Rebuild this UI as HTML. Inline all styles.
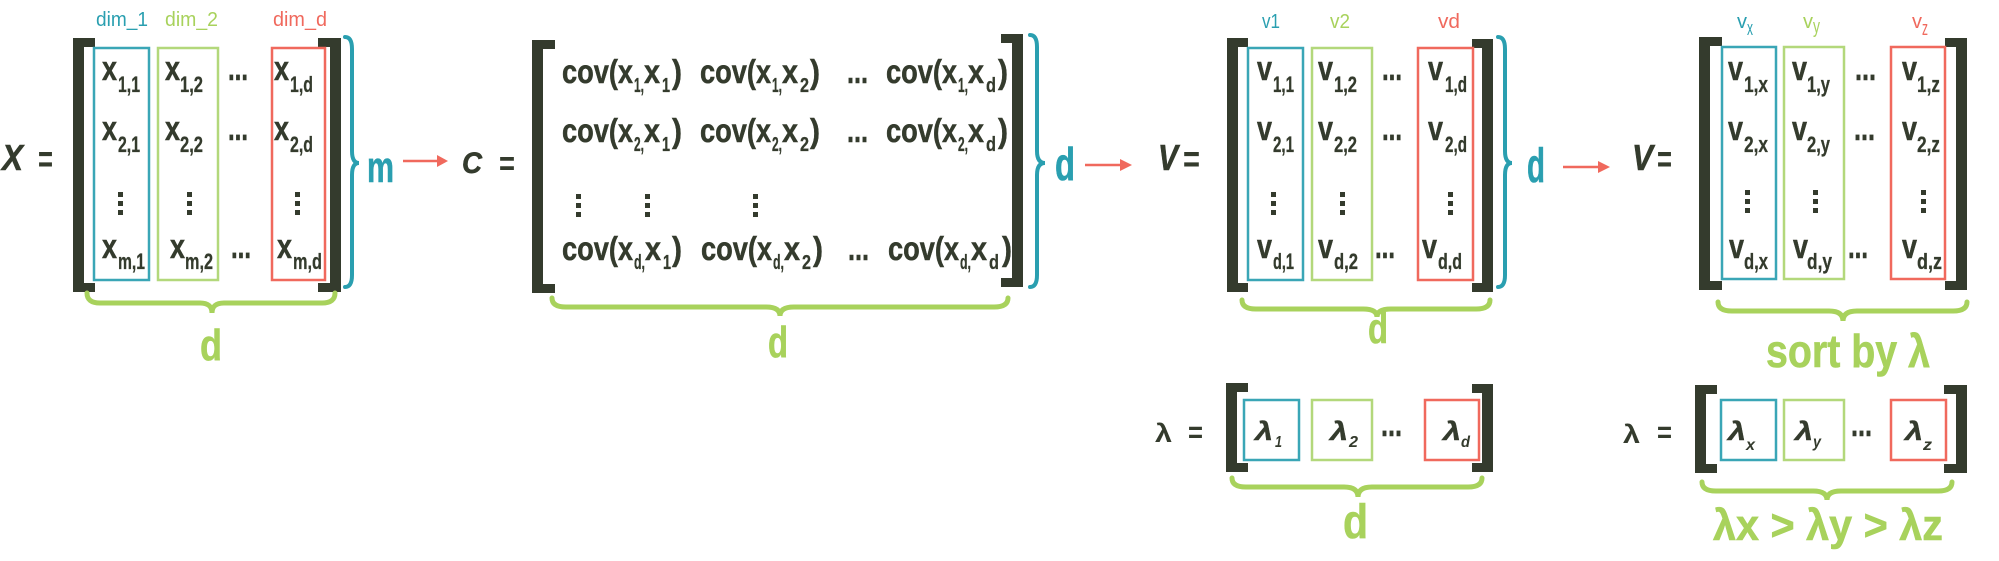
<!DOCTYPE html>
<html>
<head>
<meta charset="utf-8">
<style>
html,body{margin:0;padding:0;background:#fff;}
svg{display:block;}
text{font-family:"Liberation Sans",sans-serif;}
.m{font-size:34px;font-weight:bold;fill:#343b2d;stroke:#343b2d;stroke-width:0.5;}
.s{font-size:22px;font-weight:bold;fill:#343b2d;stroke:#343b2d;stroke-width:0.3;}
.cm{font-size:33px;font-weight:bold;fill:#343b2d;stroke:#343b2d;stroke-width:0.5;}
.cs{font-size:20px;font-weight:bold;fill:#343b2d;stroke:#343b2d;stroke-width:0.3;}
.big{font-weight:bold;font-style:italic;fill:#343b2d;stroke:#343b2d;stroke-width:0.6;}
.eq{font-weight:bold;fill:#343b2d;}
.lt{font-size:20px;fill:#2a9fb0;}
.lg{font-size:20px;fill:#a8d25c;}
.lr{font-size:20px;fill:#f0695d;}
.gd{font-weight:bold;fill:#a8d25c;stroke:#a8d25c;stroke-width:0.6;}
.td{font-weight:bold;fill:#2a9fb0;stroke:#2a9fb0;stroke-width:0.6;}
.li{font-size:26px;font-weight:bold;font-style:italic;fill:#343b2d;stroke:#343b2d;stroke-width:0.4;}
.lis{font-size:16px;font-weight:bold;font-style:italic;fill:#343b2d;}
</style>
</head>
<body>
<svg width="1999" height="561" viewBox="0 0 1999 561" xmlns="http://www.w3.org/2000/svg">
<rect width="1999" height="561" fill="#fff"/>

<!-- ============ MATRIX X ============ -->
<text class="big" x="2" y="170" font-size="36" textLength="21" lengthAdjust="spacingAndGlyphs">X</text>
<text class="eq" x="38" y="172" font-size="38" textLength="15" lengthAdjust="spacingAndGlyphs">=</text>
<path d="M73,38 H95 V47 H84 V283 H95 V292 H73 Z" fill="#343b2d"/>
<path d="M341,38 H318 V47 H330 V283 H318 V292 H341 Z" fill="#343b2d"/>
<rect x="94" y="48" width="55" height="232" fill="none" stroke="#3aa6b6" stroke-width="2.5"/>
<rect x="158" y="48" width="60" height="232" fill="none" stroke="#b3d87b" stroke-width="2.5"/>
<rect x="272" y="48" width="53" height="232" fill="none" stroke="#f0695d" stroke-width="2.5"/>
<text class="lt" x="96" y="26" textLength="52" lengthAdjust="spacingAndGlyphs">dim_1</text>
<text class="lg" x="165" y="26" textLength="53" lengthAdjust="spacingAndGlyphs">dim_2</text>
<text class="lr" x="273" y="26" textLength="54" lengthAdjust="spacingAndGlyphs">dim_d</text>
<!-- row 1 -->
<text class="m" x="102" y="80" textLength="15" lengthAdjust="spacingAndGlyphs">x</text>
<text class="s" x="118" y="92" textLength="22" lengthAdjust="spacingAndGlyphs">1,1</text>
<text class="m" x="165" y="80" textLength="15" lengthAdjust="spacingAndGlyphs">x</text>
<text class="s" x="180" y="92" textLength="23" lengthAdjust="spacingAndGlyphs">1,2</text>
<text class="m" x="228" y="80" textLength="20" lengthAdjust="spacingAndGlyphs">...</text>
<text class="m" x="274" y="80" textLength="15" lengthAdjust="spacingAndGlyphs">x</text>
<text class="s" x="290" y="92" textLength="23" lengthAdjust="spacingAndGlyphs">1,d</text>
<!-- row 2 -->
<text class="m" x="102" y="140" textLength="15" lengthAdjust="spacingAndGlyphs">x</text>
<text class="s" x="118" y="152" textLength="22" lengthAdjust="spacingAndGlyphs">2,1</text>
<text class="m" x="165" y="140" textLength="15" lengthAdjust="spacingAndGlyphs">x</text>
<text class="s" x="180" y="152" textLength="23" lengthAdjust="spacingAndGlyphs">2,2</text>
<text class="m" x="228" y="140" textLength="20" lengthAdjust="spacingAndGlyphs">...</text>
<text class="m" x="274" y="140" textLength="15" lengthAdjust="spacingAndGlyphs">x</text>
<text class="s" x="290" y="152" textLength="23" lengthAdjust="spacingAndGlyphs">2,d</text>
<!-- vdots -->
<g fill="#343b2d">
<rect x="118" y="192" width="5" height="5"/><rect x="118" y="201" width="5" height="5"/><rect x="118" y="210" width="5" height="5"/>
<rect x="187" y="192" width="5" height="5"/><rect x="187" y="201" width="5" height="5"/><rect x="187" y="210" width="5" height="5"/>
<rect x="295" y="192" width="5" height="5"/><rect x="295" y="201" width="5" height="5"/><rect x="295" y="210" width="5" height="5"/>
</g>
<!-- row m -->
<text class="m" x="102" y="258" textLength="15" lengthAdjust="spacingAndGlyphs">x</text>
<text class="s" x="118" y="269" textLength="27" lengthAdjust="spacingAndGlyphs">m,1</text>
<text class="m" x="170" y="258" textLength="15" lengthAdjust="spacingAndGlyphs">x</text>
<text class="s" x="185" y="269" textLength="28" lengthAdjust="spacingAndGlyphs">m,2</text>
<text class="m" x="231" y="258" textLength="20" lengthAdjust="spacingAndGlyphs">...</text>
<text class="m" x="277" y="258" textLength="15" lengthAdjust="spacingAndGlyphs">x</text>
<text class="s" x="293" y="269" textLength="29" lengthAdjust="spacingAndGlyphs">m,d</text>
<!-- braces -->
<path d="M345,37 Q352,37 352,49 L352,151 Q352,163 359,163 Q352,163 352,175 L352,275 Q352,287 345,287" fill="none" stroke="#2a9fb0" stroke-width="4" stroke-linecap="round"/>
<text class="td" x="367" y="182" font-size="44" textLength="27" lengthAdjust="spacingAndGlyphs">m</text>
<path d="M87,293 Q87,303 100,303 L200,303 Q212,303 212,313 Q212,303 224,303 L322,303 Q335,303 335,293" fill="none" stroke="#a8d25c" stroke-width="5" stroke-linecap="round"/>
<text class="gd" x="200" y="360" font-size="44" textLength="22" lengthAdjust="spacingAndGlyphs">d</text>
<!-- arrow 1 -->
<line x1="403" y1="161" x2="438" y2="161" stroke="#f0695d" stroke-width="2.5"/>
<polygon points="437,155 448,161 437,167" fill="#f0695d"/>

<!-- ============ MATRIX C ============ -->
<text class="big" x="462" y="173" font-size="30" textLength="20" lengthAdjust="spacingAndGlyphs">C</text>
<text class="eq" x="499" y="175" font-size="34" textLength="16" lengthAdjust="spacingAndGlyphs">=</text>
<path d="M532,40 H555 V49 H543 V284 H555 V293 H532 Z" fill="#343b2d"/>
<path d="M1023,34 H1001 V43 H1012 V278 H1001 V287 H1023 Z" fill="#343b2d"/>

<!-- row 1 -->
<g>
<text class="cm" x="562" y="83" textLength="56" lengthAdjust="spacingAndGlyphs">cov(</text>
<text class="cm" x="618" y="83" textLength="15" lengthAdjust="spacingAndGlyphs">x</text>
<text class="cs" x="634" y="92" textLength="10" lengthAdjust="spacingAndGlyphs">1,</text>
<text class="cm" x="644" y="83" textLength="16" lengthAdjust="spacingAndGlyphs">x</text>
<text class="cs" x="662" y="92" textLength="8" lengthAdjust="spacingAndGlyphs">1</text>
<text class="cm" x="672" y="83" textLength="10" lengthAdjust="spacingAndGlyphs">)</text>

<text class="cm" x="700" y="83" textLength="56" lengthAdjust="spacingAndGlyphs">cov(</text>
<text class="cm" x="756" y="83" textLength="15" lengthAdjust="spacingAndGlyphs">x</text>
<text class="cs" x="772" y="92" textLength="10" lengthAdjust="spacingAndGlyphs">1,</text>
<text class="cm" x="782" y="83" textLength="16" lengthAdjust="spacingAndGlyphs">x</text>
<text class="cs" x="800" y="92" textLength="9" lengthAdjust="spacingAndGlyphs">2</text>
<text class="cm" x="810" y="83" textLength="10" lengthAdjust="spacingAndGlyphs">)</text>

<text class="cm" x="847" y="83" textLength="21" lengthAdjust="spacingAndGlyphs">...</text>

<text class="cm" x="886" y="83" textLength="56" lengthAdjust="spacingAndGlyphs">cov(</text>
<text class="cm" x="942" y="83" textLength="15" lengthAdjust="spacingAndGlyphs">x</text>
<text class="cs" x="958" y="92" textLength="10" lengthAdjust="spacingAndGlyphs">1,</text>
<text class="cm" x="968" y="83" textLength="16" lengthAdjust="spacingAndGlyphs">x</text>
<text class="cs" x="986" y="92" textLength="10" lengthAdjust="spacingAndGlyphs">d</text>
<text class="cm" x="998" y="83" textLength="10" lengthAdjust="spacingAndGlyphs">)</text>
</g>
<!-- row 2 -->
<g>
<text class="cm" x="562" y="142" textLength="56" lengthAdjust="spacingAndGlyphs">cov(</text>
<text class="cm" x="618" y="142" textLength="15" lengthAdjust="spacingAndGlyphs">x</text>
<text class="cs" x="634" y="151" textLength="10" lengthAdjust="spacingAndGlyphs">2,</text>
<text class="cm" x="644" y="142" textLength="16" lengthAdjust="spacingAndGlyphs">x</text>
<text class="cs" x="662" y="151" textLength="8" lengthAdjust="spacingAndGlyphs">1</text>
<text class="cm" x="672" y="142" textLength="10" lengthAdjust="spacingAndGlyphs">)</text>

<text class="cm" x="700" y="142" textLength="56" lengthAdjust="spacingAndGlyphs">cov(</text>
<text class="cm" x="756" y="142" textLength="15" lengthAdjust="spacingAndGlyphs">x</text>
<text class="cs" x="772" y="151" textLength="10" lengthAdjust="spacingAndGlyphs">2,</text>
<text class="cm" x="782" y="142" textLength="16" lengthAdjust="spacingAndGlyphs">x</text>
<text class="cs" x="800" y="151" textLength="9" lengthAdjust="spacingAndGlyphs">2</text>
<text class="cm" x="810" y="142" textLength="10" lengthAdjust="spacingAndGlyphs">)</text>

<text class="cm" x="847" y="142" textLength="21" lengthAdjust="spacingAndGlyphs">...</text>

<text class="cm" x="886" y="142" textLength="56" lengthAdjust="spacingAndGlyphs">cov(</text>
<text class="cm" x="942" y="142" textLength="15" lengthAdjust="spacingAndGlyphs">x</text>
<text class="cs" x="958" y="151" textLength="10" lengthAdjust="spacingAndGlyphs">2,</text>
<text class="cm" x="968" y="142" textLength="16" lengthAdjust="spacingAndGlyphs">x</text>
<text class="cs" x="986" y="151" textLength="10" lengthAdjust="spacingAndGlyphs">d</text>
<text class="cm" x="998" y="142" textLength="10" lengthAdjust="spacingAndGlyphs">)</text>
</g>
<!-- vdots C -->
<g fill="#343b2d">
<rect x="576" y="194" width="5" height="5"/><rect x="576" y="203" width="5" height="5"/><rect x="576" y="212" width="5" height="5"/>
<rect x="645" y="194" width="5" height="5"/><rect x="645" y="203" width="5" height="5"/><rect x="645" y="212" width="5" height="5"/>
<rect x="753" y="194" width="5" height="5"/><rect x="753" y="203" width="5" height="5"/><rect x="753" y="212" width="5" height="5"/>
</g>
<!-- row d -->
<g>
<text class="cm" x="562" y="260" textLength="56" lengthAdjust="spacingAndGlyphs">cov(</text>
<text class="cm" x="618" y="260" textLength="15" lengthAdjust="spacingAndGlyphs">x</text>
<text class="cs" x="634" y="269" textLength="11" lengthAdjust="spacingAndGlyphs">d,</text>
<text class="cm" x="645" y="260" textLength="16" lengthAdjust="spacingAndGlyphs">x</text>
<text class="cs" x="663" y="269" textLength="8" lengthAdjust="spacingAndGlyphs">1</text>
<text class="cm" x="672" y="260" textLength="10" lengthAdjust="spacingAndGlyphs">)</text>

<text class="cm" x="701" y="260" textLength="56" lengthAdjust="spacingAndGlyphs">cov(</text>
<text class="cm" x="757" y="260" textLength="15" lengthAdjust="spacingAndGlyphs">x</text>
<text class="cs" x="773" y="269" textLength="11" lengthAdjust="spacingAndGlyphs">d,</text>
<text class="cm" x="784" y="260" textLength="16" lengthAdjust="spacingAndGlyphs">x</text>
<text class="cs" x="802" y="269" textLength="9" lengthAdjust="spacingAndGlyphs">2</text>
<text class="cm" x="813" y="260" textLength="10" lengthAdjust="spacingAndGlyphs">)</text>

<text class="cm" x="848" y="260" textLength="21" lengthAdjust="spacingAndGlyphs">...</text>

<text class="cm" x="888" y="260" textLength="56" lengthAdjust="spacingAndGlyphs">cov(</text>
<text class="cm" x="944" y="260" textLength="15" lengthAdjust="spacingAndGlyphs">x</text>
<text class="cs" x="960" y="269" textLength="11" lengthAdjust="spacingAndGlyphs">d,</text>
<text class="cm" x="971" y="260" textLength="16" lengthAdjust="spacingAndGlyphs">x</text>
<text class="cs" x="989" y="269" textLength="10" lengthAdjust="spacingAndGlyphs">d</text>
<text class="cm" x="1002" y="260" textLength="10" lengthAdjust="spacingAndGlyphs">)</text>
</g>
<!-- braces C -->
<path d="M1030,35 Q1037,35 1037,47 L1037,151 Q1037,163 1045,163 Q1037,163 1037,175 L1037,275 Q1037,287 1030,287" fill="none" stroke="#2a9fb0" stroke-width="4" stroke-linecap="round"/>
<text class="td" x="1055" y="180" font-size="46" textLength="20" lengthAdjust="spacingAndGlyphs">d</text>
<path d="M552,298 Q552,307 566,307 L766,307 Q780,307 780,316 Q780,307 794,307 L994,307 Q1008,307 1008,298" fill="none" stroke="#a8d25c" stroke-width="5" stroke-linecap="round"/>
<text class="gd" x="768" y="357" font-size="44" textLength="20" lengthAdjust="spacingAndGlyphs">d</text>
<!-- arrow 2 -->
<line x1="1085" y1="165" x2="1121" y2="165" stroke="#f0695d" stroke-width="2.5"/>
<polygon points="1120,159 1132,165 1120,171" fill="#f0695d"/>

<!-- ============ MATRIX V ============ -->
<text class="big" x="1158" y="170" font-size="36" textLength="20" lengthAdjust="spacingAndGlyphs">V</text>
<text class="eq" x="1183" y="172" font-size="38" textLength="17" lengthAdjust="spacingAndGlyphs">=</text>
<path d="M1227,38 H1248 V47 H1238 V283 H1248 V292 H1227 Z" fill="#343b2d"/>
<path d="M1493,39 H1472 V48 H1482 V283 H1472 V292 H1493 Z" fill="#343b2d"/>
<rect x="1248" y="48" width="55" height="232" fill="none" stroke="#3aa6b6" stroke-width="2.5"/>
<rect x="1312" y="48" width="60" height="232" fill="none" stroke="#b3d87b" stroke-width="2.5"/>
<rect x="1418" y="48" width="55" height="232" fill="none" stroke="#f0695d" stroke-width="2.5"/>
<text class="lt" x="1262" y="28" textLength="18" lengthAdjust="spacingAndGlyphs">v1</text>
<text class="lg" x="1330" y="28" textLength="20" lengthAdjust="spacingAndGlyphs">v2</text>
<text class="lr" x="1438" y="28" textLength="22" lengthAdjust="spacingAndGlyphs">vd</text>
<!-- row 1 -->
<text class="m" x="1257" y="80" textLength="15" lengthAdjust="spacingAndGlyphs">v</text>
<text class="s" x="1273" y="92" textLength="21" lengthAdjust="spacingAndGlyphs">1,1</text>
<text class="m" x="1318" y="80" textLength="15" lengthAdjust="spacingAndGlyphs">v</text>
<text class="s" x="1334" y="92" textLength="23" lengthAdjust="spacingAndGlyphs">1,2</text>
<text class="m" x="1382" y="80" textLength="20" lengthAdjust="spacingAndGlyphs">...</text>
<text class="m" x="1428" y="80" textLength="15" lengthAdjust="spacingAndGlyphs">v</text>
<text class="s" x="1445" y="92" textLength="22" lengthAdjust="spacingAndGlyphs">1,d</text>
<!-- row 2 -->
<text class="m" x="1257" y="140" textLength="15" lengthAdjust="spacingAndGlyphs">v</text>
<text class="s" x="1273" y="152" textLength="21" lengthAdjust="spacingAndGlyphs">2,1</text>
<text class="m" x="1318" y="140" textLength="15" lengthAdjust="spacingAndGlyphs">v</text>
<text class="s" x="1334" y="152" textLength="23" lengthAdjust="spacingAndGlyphs">2,2</text>
<text class="m" x="1382" y="140" textLength="20" lengthAdjust="spacingAndGlyphs">...</text>
<text class="m" x="1428" y="140" textLength="15" lengthAdjust="spacingAndGlyphs">v</text>
<text class="s" x="1445" y="152" textLength="22" lengthAdjust="spacingAndGlyphs">2,d</text>
<g fill="#343b2d">
<rect x="1271" y="192" width="5" height="5"/><rect x="1271" y="201" width="5" height="5"/><rect x="1271" y="210" width="5" height="5"/>
<rect x="1340" y="192" width="5" height="5"/><rect x="1340" y="201" width="5" height="5"/><rect x="1340" y="210" width="5" height="5"/>
<rect x="1448" y="192" width="5" height="5"/><rect x="1448" y="201" width="5" height="5"/><rect x="1448" y="210" width="5" height="5"/>
</g>
<!-- row d -->
<text class="m" x="1257" y="258" textLength="15" lengthAdjust="spacingAndGlyphs">v</text>
<text class="s" x="1273" y="269" textLength="21" lengthAdjust="spacingAndGlyphs">d,1</text>
<text class="m" x="1318" y="258" textLength="15" lengthAdjust="spacingAndGlyphs">v</text>
<text class="s" x="1334" y="269" textLength="24" lengthAdjust="spacingAndGlyphs">d,2</text>
<text class="m" x="1375" y="258" textLength="20" lengthAdjust="spacingAndGlyphs">...</text>
<text class="m" x="1422" y="258" textLength="15" lengthAdjust="spacingAndGlyphs">v</text>
<text class="s" x="1438" y="269" textLength="24" lengthAdjust="spacingAndGlyphs">d,d</text>
<!-- braces V -->
<path d="M1498,37 Q1505,37 1505,49 L1505,151 Q1505,163 1512,163 Q1505,163 1505,175 L1505,275 Q1505,287 1498,287" fill="none" stroke="#2a9fb0" stroke-width="4" stroke-linecap="round"/>
<text class="td" x="1527" y="182" font-size="48" textLength="18" lengthAdjust="spacingAndGlyphs">d</text>
<path d="M1242,300 Q1242,309 1256,309 L1363,309 Q1377,309 1377,317 Q1377,309 1391,309 L1476,309 Q1490,309 1490,300" fill="none" stroke="#a8d25c" stroke-width="5" stroke-linecap="round"/>
<text class="gd" x="1368" y="343" font-size="43" textLength="20" lengthAdjust="spacingAndGlyphs">d</text>
<!-- arrow 3 -->
<line x1="1563" y1="167" x2="1599" y2="167" stroke="#f0695d" stroke-width="2.5"/>
<polygon points="1598,161 1610,167 1598,173" fill="#f0695d"/>

<!-- ============ SORTED V ============ -->
<text class="big" x="1632" y="170" font-size="36" textLength="21" lengthAdjust="spacingAndGlyphs">V</text>
<text class="eq" x="1657" y="172" font-size="38" textLength="15" lengthAdjust="spacingAndGlyphs">=</text>
<path d="M1699,37 H1722 V46 H1710 V281 H1722 V290 H1699 Z" fill="#343b2d"/>
<path d="M1967,38 H1945 V47 H1956 V281 H1945 V290 H1967 Z" fill="#343b2d"/>
<rect x="1722" y="47" width="54" height="232" fill="none" stroke="#3aa6b6" stroke-width="2.5"/>
<rect x="1784" y="47" width="60" height="232" fill="none" stroke="#b3d87b" stroke-width="2.5"/>
<rect x="1891" y="47" width="54" height="232" fill="none" stroke="#f0695d" stroke-width="2.5"/>
<text class="lt" x="1737" y="28" textLength="10" lengthAdjust="spacingAndGlyphs">v</text>
<text class="lt" x="1747" y="35" font-size="13" textLength="6" lengthAdjust="spacingAndGlyphs">x</text>
<text class="lg" x="1803" y="28" textLength="10" lengthAdjust="spacingAndGlyphs">v</text>
<text class="lg" x="1813" y="33" font-size="13" textLength="7" lengthAdjust="spacingAndGlyphs">y</text>
<text class="lr" x="1912" y="28" textLength="10" lengthAdjust="spacingAndGlyphs">v</text>
<text class="lr" x="1922" y="35" font-size="13" textLength="6" lengthAdjust="spacingAndGlyphs">z</text>
<!-- row 1 -->
<text class="m" x="1728" y="80" textLength="15" lengthAdjust="spacingAndGlyphs">v</text>
<text class="s" x="1744" y="92" textLength="24" lengthAdjust="spacingAndGlyphs">1,x</text>
<text class="m" x="1792" y="80" textLength="15" lengthAdjust="spacingAndGlyphs">v</text>
<text class="s" x="1807" y="92" textLength="23" lengthAdjust="spacingAndGlyphs">1,y</text>
<text class="m" x="1855" y="80" textLength="21" lengthAdjust="spacingAndGlyphs">...</text>
<text class="m" x="1902" y="80" textLength="15" lengthAdjust="spacingAndGlyphs">v</text>
<text class="s" x="1917" y="92" textLength="23" lengthAdjust="spacingAndGlyphs">1,z</text>
<!-- row 2 -->
<text class="m" x="1728" y="140" textLength="15" lengthAdjust="spacingAndGlyphs">v</text>
<text class="s" x="1744" y="152" textLength="24" lengthAdjust="spacingAndGlyphs">2,x</text>
<text class="m" x="1792" y="140" textLength="15" lengthAdjust="spacingAndGlyphs">v</text>
<text class="s" x="1807" y="152" textLength="23" lengthAdjust="spacingAndGlyphs">2,y</text>
<text class="m" x="1854" y="140" textLength="21" lengthAdjust="spacingAndGlyphs">...</text>
<text class="m" x="1902" y="140" textLength="15" lengthAdjust="spacingAndGlyphs">v</text>
<text class="s" x="1917" y="152" textLength="23" lengthAdjust="spacingAndGlyphs">2,z</text>
<g fill="#343b2d">
<rect x="1745" y="190" width="5" height="5"/><rect x="1745" y="199" width="5" height="5"/><rect x="1745" y="208" width="5" height="5"/>
<rect x="1813" y="190" width="5" height="5"/><rect x="1813" y="199" width="5" height="5"/><rect x="1813" y="208" width="5" height="5"/>
<rect x="1921" y="190" width="5" height="5"/><rect x="1921" y="199" width="5" height="5"/><rect x="1921" y="208" width="5" height="5"/>
</g>
<!-- row d -->
<text class="m" x="1729" y="258" textLength="15" lengthAdjust="spacingAndGlyphs">v</text>
<text class="s" x="1744" y="269" textLength="24" lengthAdjust="spacingAndGlyphs">d,x</text>
<text class="m" x="1793" y="258" textLength="15" lengthAdjust="spacingAndGlyphs">v</text>
<text class="s" x="1807" y="269" textLength="25" lengthAdjust="spacingAndGlyphs">d,y</text>
<text class="m" x="1848" y="258" textLength="20" lengthAdjust="spacingAndGlyphs">...</text>
<text class="m" x="1902" y="258" textLength="15" lengthAdjust="spacingAndGlyphs">v</text>
<text class="s" x="1917" y="269" textLength="25" lengthAdjust="spacingAndGlyphs">d,z</text>
<path d="M1718,302 Q1718,311 1732,311 L1829,311 Q1843,311 1843,321 Q1843,311 1857,311 L1953,311 Q1967,311 1967,302" fill="none" stroke="#a8d25c" stroke-width="5" stroke-linecap="round"/>
<text class="gd" x="1766" y="367" font-size="46" textLength="164" lengthAdjust="spacingAndGlyphs">sort by λ</text>

<!-- ============ LAMBDA 1 ============ -->
<text class="eq" x="1155" y="442" font-size="26" textLength="17" lengthAdjust="spacingAndGlyphs">λ</text>
<text class="eq" x="1188" y="442" font-size="30" textLength="15" lengthAdjust="spacingAndGlyphs">=</text>
<path d="M1226,383 H1248 V392 H1237 V463 H1248 V472 H1226 Z" fill="#343b2d"/>
<path d="M1493,384 H1472 V393 H1482 V463 H1472 V472 H1493 Z" fill="#343b2d"/>
<rect x="1244" y="400" width="55" height="60" fill="none" stroke="#3aa6b6" stroke-width="2.5"/>
<rect x="1312" y="400" width="60" height="60" fill="none" stroke="#b3d87b" stroke-width="2.5"/>
<rect x="1425" y="400" width="54" height="60" fill="none" stroke="#f0695d" stroke-width="2.5"/>
<text class="li" x="1255" y="440" textLength="18" lengthAdjust="spacingAndGlyphs">λ</text>
<text class="lis" x="1275" y="447" textLength="7" lengthAdjust="spacingAndGlyphs">1</text>
<text class="li" x="1330" y="440" textLength="18" lengthAdjust="spacingAndGlyphs">λ</text>
<text class="lis" x="1349" y="447" textLength="9" lengthAdjust="spacingAndGlyphs">2</text>
<text class="m" x="1381" y="436" font-size="30" textLength="21" lengthAdjust="spacingAndGlyphs">...</text>
<text class="li" x="1443" y="440" textLength="18" lengthAdjust="spacingAndGlyphs">λ</text>
<text class="lis" x="1461" y="447" textLength="9" lengthAdjust="spacingAndGlyphs">d</text>
<path d="M1232,478 Q1232,487 1246,487 L1344,487 Q1358,487 1358,497 Q1358,487 1372,487 L1468,487 Q1482,487 1482,478" fill="none" stroke="#a8d25c" stroke-width="5" stroke-linecap="round"/>
<text class="gd" x="1343" y="538" font-size="48" textLength="25" lengthAdjust="spacingAndGlyphs">d</text>

<!-- ============ LAMBDA 2 ============ -->
<text class="eq" x="1623" y="443" font-size="26" textLength="17" lengthAdjust="spacingAndGlyphs">λ</text>
<text class="eq" x="1657" y="442" font-size="30" textLength="15" lengthAdjust="spacingAndGlyphs">=</text>
<path d="M1695,385 H1717 V394 H1706 V464 H1717 V473 H1695 Z" fill="#343b2d"/>
<path d="M1967,385 H1944 V394 H1956 V464 H1944 V473 H1967 Z" fill="#343b2d"/>
<rect x="1721" y="400" width="55" height="60" fill="none" stroke="#3aa6b6" stroke-width="2.5"/>
<rect x="1784" y="400" width="60" height="60" fill="none" stroke="#b3d87b" stroke-width="2.5"/>
<rect x="1891" y="400" width="55" height="60" fill="none" stroke="#f0695d" stroke-width="2.5"/>
<text class="li" x="1728" y="440" textLength="18" lengthAdjust="spacingAndGlyphs">λ</text>
<text class="lis" x="1746" y="450" textLength="9" lengthAdjust="spacingAndGlyphs">x</text>
<text class="li" x="1795" y="440" textLength="18" lengthAdjust="spacingAndGlyphs">λ</text>
<text class="lis" x="1813" y="447" textLength="8" lengthAdjust="spacingAndGlyphs">y</text>
<text class="m" x="1851" y="436" font-size="30" textLength="21" lengthAdjust="spacingAndGlyphs">...</text>
<text class="li" x="1905" y="440" textLength="18" lengthAdjust="spacingAndGlyphs">λ</text>
<text class="lis" x="1923" y="450" textLength="9" lengthAdjust="spacingAndGlyphs">z</text>
<path d="M1702,482 Q1702,491 1716,491 L1813,491 Q1827,491 1827,500 Q1827,491 1841,491 L1938,491 Q1952,491 1952,482" fill="none" stroke="#a8d25c" stroke-width="5" stroke-linecap="round"/>
<text class="gd" x="1713" y="540" font-size="44" textLength="230" lengthAdjust="spacingAndGlyphs">λx &gt; λy  &gt; λz</text>
</svg>
</body>
</html>
